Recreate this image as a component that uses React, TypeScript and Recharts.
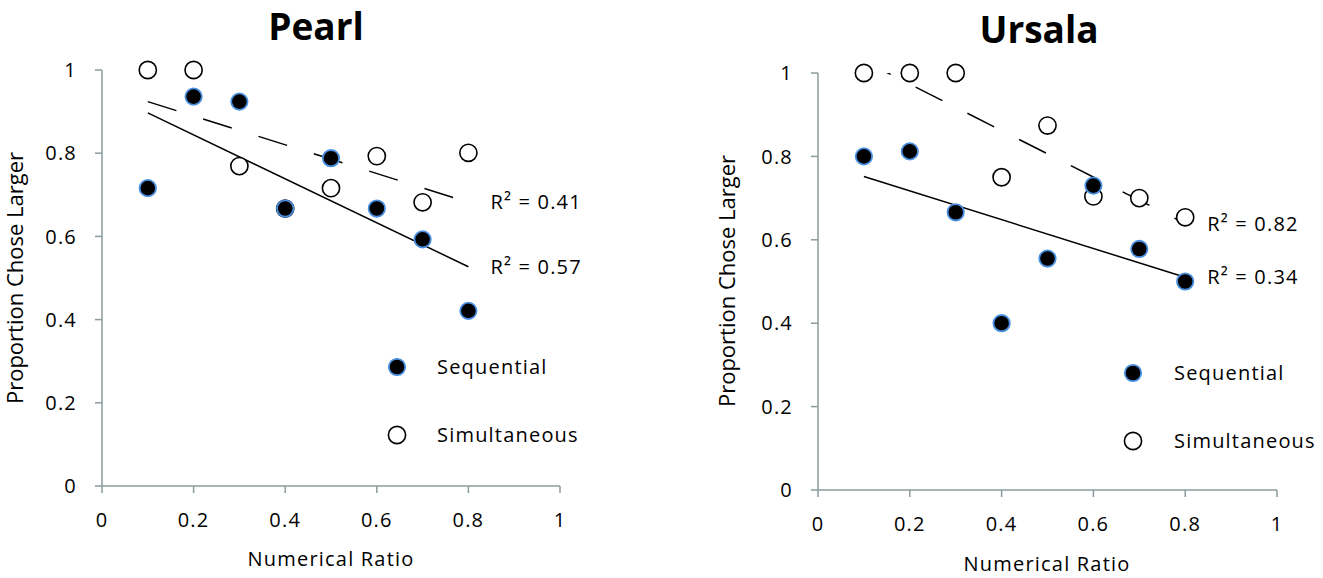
import React from 'react';
import { ScatterChart, Scatter, XAxis, YAxis, ReferenceLine, ReferenceDot } from 'recharts';

// ---- data ----
const ratios = [0.1, 0.2, 0.3, 0.4, 0.5, 0.6, 0.7, 0.8];
const pearlSequential = [0.716, 0.936, 0.924, 0.667, 0.788, 0.667, 0.593, 0.421];
const pearlSimultaneous = [1.0, 1.0, 0.769, 0.667, 0.716, 0.793, 0.682, 0.801];
const ursalaSequential = [0.8, 0.812, 0.666, 0.4, 0.555, 0.73, 0.578, 0.5];
const ursalaSimultaneous = [1.0, 1.0, 1.0, 0.75, 0.874, 0.704, 0.7, 0.654];
const trendX = [0.1, 0.8];
const pearlSeqTrend = [0.897, 0.527];
const pearlSimTrend = [0.924, 0.682];
const ursalaSeqTrend = [0.752, 0.51];
const ursalaSimTrend = [1.029, 0.639];
const pearlR2 = { sim: 'R² = 0.41', seq: 'R² = 0.57' };
const ursalaR2 = { sim: 'R² = 0.82', seq: 'R² = 0.34' };
const axisTicks = [0, 0.2, 0.4, 0.6, 0.8, 1];
const titles = ['Pearl', 'Ursala'];
const xTitle = 'Numerical Ratio';
const yTitle = 'Proportion Chose Larger';
const seriesNames = ['Sequential', 'Simultaneous'];

const FONT = 'Open Sans';
const AXIS = '#8c9b9b';
const BLUE = '#4a90e2';
const textStyle = { fontFamily: FONT, fontSize: 20, fill: '#000', letterSpacing: 1.2 };

const SeqDot = (p: any) => (
  <circle cx={p.cx} cy={p.cy} r={8.2} fill="#000" stroke={BLUE} strokeWidth={1.8} />
);
const SimDot = (p: any) => (
  <circle cx={p.cx} cy={p.cy} r={8.6} fill="#fff" stroke="#000" strokeWidth={1.6} />
);

const fmt = (v: number) => String(v);

type PanelProps = {
  seq: number[];
  sim: number[];
  seqTrend: number[];
  simTrend: number[];
  r2: { sim: string; seq: string };
  width: number;
  margin: { top: number; right: number; bottom: number; left: number };
};

const r2Label = (text: string) => (p: any) => {
  const vb = p.viewBox || {};
  return (
    <text x={(vb.x ?? 0) + 22} y={vb.y ?? 0} dy="0.35em" style={textStyle as any}>
      {text}
    </text>
  );
};

function Panel({ seq, sim, seqTrend, simTrend, r2, width, margin }: PanelProps) {
  const seqData = ratios.map((x, i) => ({ x, y: seq[i] }));
  const simData = ratios.map((x, i) => ({ x, y: sim[i] }));
  return (
    <ScatterChart width={width} height={578} margin={margin}>
      <XAxis
        type="number"
        dataKey="x"
        domain={[0, 1]}
        ticks={axisTicks}
        tickFormatter={fmt}
        height={60}
        stroke={AXIS}
        strokeWidth={1.5}
        tickSize={7}
        tickMargin={20}
        tick={textStyle}
      />
      <YAxis
        type="number"
        dataKey="y"
        domain={[0, 1]}
        ticks={axisTicks}
        tickFormatter={fmt}
        width={60}
        stroke={AXIS}
        strokeWidth={1.5}
        tickSize={7}
        tickMargin={18}
        tick={textStyle}
      />
      <Scatter name={seriesNames[1]} data={simData} shape={SimDot} isAnimationActive={false} />
      <Scatter name={seriesNames[0]} data={seqData} shape={SeqDot} isAnimationActive={false} />
      <ReferenceLine
        segment={[{ x: trendX[0], y: simTrend[0] }, { x: trendX[1], y: simTrend[1] }]}
        stroke="#000"
        strokeWidth={1.5}
        strokeDasharray="30 28"
        ifOverflow="hidden"
      />
      <ReferenceLine
        segment={[{ x: trendX[0], y: seqTrend[0] }, { x: trendX[1], y: seqTrend[1] }]}
        stroke="#000"
        strokeWidth={1.5}
        ifOverflow="hidden"
      />
      <ReferenceDot x={trendX[1]} y={simTrend[1]} r={0.01} fill="none" stroke="none" ifOverflow="visible" label={r2Label(r2.sim)} />
      <ReferenceDot x={trendX[1]} y={seqTrend[1]} r={0.01} fill="none" stroke="none" ifOverflow="visible" label={r2Label(r2.seq)} />
    </ScatterChart>
  );
}

function LegendBlock({ x, y1, y2, tx }: { x: number; y1: number; y2: number; tx: number }) {
  return (
    <g>
      <circle cx={x} cy={y1} r={8.2} fill="#000" stroke={BLUE} strokeWidth={1.8} />
      <text x={tx} y={y1} dy="0.35em" style={textStyle as any}>{seriesNames[0]}</text>
      <circle cx={x} cy={y2} r={8.6} fill="#fff" stroke="#000" strokeWidth={1.6} />
      <text x={tx} y={y2} dy="0.35em" style={textStyle as any}>{seriesNames[1]}</text>
    </g>
  );
}

export default function App() {
  return (
    <div style={{ position: 'absolute', left: 0, top: 0, width: 1323, height: 578, background: '#fff', overflow: 'hidden' }}>
      <div style={{ position: 'absolute', left: 0, top: 0 }}>
        <Panel
          seq={pearlSequential}
          sim={pearlSimultaneous}
          seqTrend={pearlSeqTrend}
          simTrend={pearlSimTrend}
          r2={pearlR2}
          width={660}
          margin={{ top: 70, right: 100, bottom: 32, left: 42 }}
        />
      </div>
      <div style={{ position: 'absolute', left: 700, top: 0 }}>
        <Panel
          seq={ursalaSequential}
          sim={ursalaSimultaneous}
          seqTrend={ursalaSeqTrend}
          simTrend={ursalaSimTrend}
          r2={ursalaR2}
          width={623}
          margin={{ top: 73, right: 46, bottom: 28, left: 58 }}
        />
      </div>
      <svg width={1323} height={578} style={{ position: 'absolute', left: 0, top: 0, pointerEvents: 'none' }}>
        <text x={316} y={40} textAnchor="middle" fontFamily={FONT} fontWeight={700} fontSize={37} fill="#000">{titles[0]}</text>
        <text x={1039} y={43} textAnchor="middle" fontFamily={FONT} fontWeight={700} fontSize={37} fill="#000">{titles[1]}</text>
        <text x={331} y={566} textAnchor="middle" style={textStyle as any}>{xTitle}</text>
        <text x={1047} y={571} textAnchor="middle" style={textStyle as any}>{xTitle}</text>
        <text transform="translate(15,278) rotate(-90)" textAnchor="middle" dy="0.35em" fontFamily={FONT} fontSize={22} fill="#000">{yTitle}</text>
        <text transform="translate(727,281) rotate(-90)" textAnchor="middle" dy="0.35em" fontFamily={FONT} fontSize={22} fill="#000">{yTitle}</text>
        <LegendBlock x={397} y1={367} y2={435} tx={437} />
        <LegendBlock x={1133} y1={373} y2={441} tx={1174} />
      </svg>
    </div>
  );
}
